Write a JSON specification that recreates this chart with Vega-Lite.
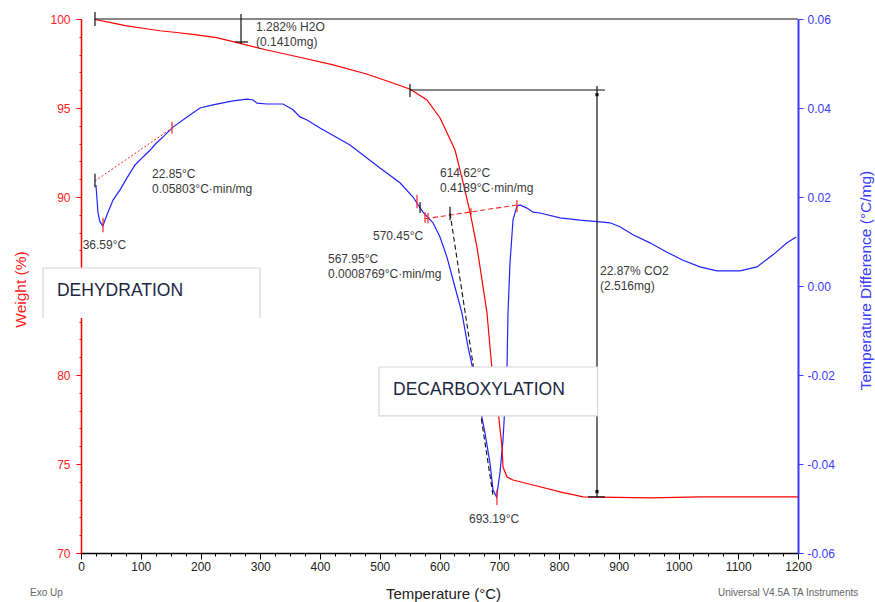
{
  "$schema": "https://vega.github.io/schema/vega-lite/v6.json",
  "width": 717,
  "height": 534,
  "autosize": {"type": "none"},
  "padding": {"left": 81, "top": 19, "right": 77, "bottom": 49},
  "background": "white",
  "config": {"view": {"stroke": null}, "font": "Liberation Sans"},
  "datasets": {
    "tga": [
      {"t": 23, "w": 99.97}, {"t": 50, "w": 99.8}, {"t": 76.5, "w": 99.61}, {"t": 104, "w": 99.48},
      {"t": 132, "w": 99.34}, {"t": 160, "w": 99.24}, {"t": 187, "w": 99.14}, {"t": 227, "w": 98.95},
      {"t": 261, "w": 98.67}, {"t": 311, "w": 98.26}, {"t": 366, "w": 97.85}, {"t": 422, "w": 97.42},
      {"t": 478, "w": 96.91}, {"t": 523, "w": 96.39}, {"t": 551, "w": 96.05}, {"t": 579, "w": 95.45},
      {"t": 601, "w": 94.44}, {"t": 626, "w": 92.64}, {"t": 639.3, "w": 90.84}, {"t": 651, "w": 89.16},
      {"t": 662.7, "w": 87.19}, {"t": 671.1, "w": 85.34}, {"t": 679.5, "w": 83.48}, {"t": 684.5, "w": 81.57},
      {"t": 689.5, "w": 79.72}, {"t": 697.9, "w": 78.03}, {"t": 704.6, "w": 75.96}, {"t": 706.3, "w": 74.83},
      {"t": 713, "w": 74.27}, {"t": 723, "w": 74.1}, {"t": 756.5, "w": 73.82}, {"t": 806.7, "w": 73.39},
      {"t": 823.4, "w": 73.28}, {"t": 840.1, "w": 73.15}, {"t": 952.3, "w": 73.1}, {"t": 1036, "w": 73.15},
      {"t": 1200, "w": 73.15}
    ],
    "dta": [
      {"t": 25, "d": 0.0227}, {"t": 28.5, "d": 0.0164}, {"t": 31.8, "d": 0.0144}, {"t": 36.6, "d": 0.0135},
      {"t": 43.5, "d": 0.016}, {"t": 53.6, "d": 0.0193}, {"t": 65.3, "d": 0.0216}, {"t": 77, "d": 0.0243},
      {"t": 90.4, "d": 0.0272}, {"t": 103.8, "d": 0.029}, {"t": 115.5, "d": 0.0305}, {"t": 123.8, "d": 0.0318},
      {"t": 137.2, "d": 0.0335}, {"t": 154, "d": 0.0357}, {"t": 177.4, "d": 0.038}, {"t": 199.2, "d": 0.04},
      {"t": 220.9, "d": 0.0407}, {"t": 254.4, "d": 0.0416}, {"t": 277.8, "d": 0.042}, {"t": 287.9, "d": 0.0418},
      {"t": 294.6, "d": 0.0411}, {"t": 311.3, "d": 0.0409}, {"t": 338.1, "d": 0.0409}, {"t": 354.8, "d": 0.0396},
      {"t": 366.5, "d": 0.038}, {"t": 378.2, "d": 0.0373}, {"t": 400, "d": 0.0355}, {"t": 450.2, "d": 0.0317},
      {"t": 500.4, "d": 0.0265}, {"t": 533.9, "d": 0.0232}, {"t": 555.6, "d": 0.02}, {"t": 572.4, "d": 0.0166},
      {"t": 589.1, "d": 0.0142}, {"t": 600.8, "d": 0.011}, {"t": 612.5, "d": 0.0065}, {"t": 622.6, "d": 0.0014},
      {"t": 637.6, "d": -0.0061}, {"t": 647.7, "d": -0.0137}, {"t": 654.4, "d": -0.0178}, {"t": 661.1, "d": -0.0227},
      {"t": 667.8, "d": -0.0274}, {"t": 676.1, "d": -0.033}, {"t": 684.5, "d": -0.0398}, {"t": 689.5, "d": -0.0458},
      {"t": 695.5, "d": -0.0474}, {"t": 701.2, "d": -0.042}, {"t": 706.3, "d": -0.0346}, {"t": 709.6, "d": -0.0267},
      {"t": 713, "d": -0.0182}, {"t": 714.6, "d": -0.0061}, {"t": 718, "d": 0.0052}, {"t": 723, "d": 0.0148},
      {"t": 729.7, "d": 0.018}, {"t": 734.7, "d": 0.0182}, {"t": 746.4, "d": 0.0175}, {"t": 756.5, "d": 0.0166},
      {"t": 768.2, "d": 0.0164}, {"t": 801.7, "d": 0.0153}, {"t": 835.1, "d": 0.0148}, {"t": 868.6, "d": 0.0144},
      {"t": 885.3, "d": 0.0142}, {"t": 902.1, "d": 0.0133}, {"t": 923.8, "d": 0.0115}, {"t": 952.3, "d": 0.0097},
      {"t": 980.7, "d": 0.0076}, {"t": 1007.5, "d": 0.0058}, {"t": 1036, "d": 0.0043}, {"t": 1064.4, "d": 0.0034},
      {"t": 1102.9, "d": 0.0034}, {"t": 1131.4, "d": 0.0043}, {"t": 1158.1, "d": 0.007}, {"t": 1181.6, "d": 0.0097},
      {"t": 1197, "d": 0.011}
    ],
    "redDotted": [{"t": 23.4, "d": 0.0236, "t2": 152.3, "d2": 0.0355}],
    "redDashed": [{"t": 575.7, "d": 0.0151, "t2": 729.7, "d2": 0.0182}],
    "blackDashed": [{"t": 617.6, "d": 0.0164, "t2": 689.5, "d2": -0.047}],
    "redTicks": [
      {"t": 152.3, "d": 0.0369, "d2": 0.0342}, {"t": 36.8, "d": 0.0153, "d2": 0.0121},
      {"t": 562.3, "d": 0.0205, "d2": 0.0175}, {"t": 575.7, "d": 0.0166, "d2": 0.0142},
      {"t": 580.7, "d": 0.0164, "d2": 0.0141}, {"t": 652.7, "d": 0.0175, "d2": 0.016},
      {"t": 729.7, "d": 0.0193, "d2": 0.0166}, {"t": 696.2, "d": -0.0458, "d2": -0.0492}
    ],
    "blackTicks": [
      {"t": 23.4, "d": 0.0252, "d2": 0.0222}, {"t": 567.4, "d": 0.0189, "d2": 0.0164},
      {"t": 617.6, "d": 0.0178, "d2": 0.0148}
    ],
    "stepLines": [
      {"t": 23.4, "w": 100, "t2": 1200, "w2": 100},
      {"t": 23.4, "w": 100.39, "t2": 23.4, "w2": 99.61},
      {"t": 267.8, "w": 100.28, "t2": 267.8, "w2": 98.6},
      {"t": 257.7, "w": 98.71, "t2": 279.5, "w2": 98.71},
      {"t": 550.6, "w": 96.01, "t2": 877, "w2": 96.01},
      {"t": 550.6, "w": 96.35, "t2": 550.6, "w2": 95.62},
      {"t": 863.6, "w": 96.24, "t2": 863.6, "w2": 73.15},
      {"t": 848.5, "w": 73.15, "t2": 877, "w2": 73.15}
    ],
    "arrowHeads": [{"t": 863.6, "w": 95.75}, {"t": 863.6, "w": 73.45}],
    "labels": [
      {"t": 292.9, "w": 99.33, "text": "1.282% H2O"},
      {"t": 292.9, "w": 98.48, "text": "(0.1410mg)"},
      {"t": 118.8, "w": 91.07, "text": "22.85°C"},
      {"t": 118.8, "w": 90.22, "text": "0.05803°C·min/mg"},
      {"t": 2.8, "w": 87.08, "text": "36.59°C"},
      {"t": 600.8, "w": 91.15, "text": "614.62°C"},
      {"t": 600.8, "w": 90.3, "text": "0.4189°C·min/mg"},
      {"t": 488.7, "w": 87.56, "text": "570.45°C"},
      {"t": 413.4, "w": 86.29, "text": "567.95°C"},
      {"t": 413.4, "w": 85.45, "text": "0.0008769°C·min/mg"},
      {"t": 868.6, "w": 85.6, "text": "22.87% CO2"},
      {"t": 868.6, "w": 84.8, "text": "(2.516mg)"},
      {"t": 649.4, "w": 71.71, "text": "693.19°C"}
    ],
    "boxes": [
      {"t": -63.6, "t2": 299.6, "w": 86.01, "w2": 83.2}
    ],
    "openBoxEdges": [
      {"t": -63.6, "w": 86.01, "t2": 299.6, "w2": 86.01},
      {"t": -63.6, "w": 86.01, "t2": -63.6, "w2": 83.2},
      {"t": 299.6, "w": 86.01, "t2": 299.6, "w2": 83.2}
    ],
    "closedBox": [{"t": 498.7, "t2": 864.5, "w": 80.45, "w2": 77.7}],
    "boxTexts": [
      {"t": -40.2, "w": 84.44, "text": "DEHYDRATION"},
      {"t": 522.2, "w": 78.88, "text": "DECARBOXYLATION"}
    ],
    "footer": [
      {"t": -85.4, "w": 67.58, "text": "Exo Up"},
      {"t": 1066.1, "w": 67.58, "text": "Universal V4.5A TA Instruments"}
    ]
  },
  "encoding": {
    "x": {
      "field": "t",
      "type": "quantitative",
      "scale": {"domain": [0, 1200], "nice": false, "zero": false},
      "axis": {
        "title": "Temperature (°C)",
        "titleFont": "Liberation Sans",
        "titleFontSize": 15,
        "titleFontWeight": "normal",
        "titleColor": "#222222",
        "titleX": 362,
        "titleY": 40,
        "titleBaseline": "middle",
        "titleAlign": "center",
        "values": [0,25,50,75,100,125,150,175,200,225,250,275,300,325,350,375,400,425,450,475,500,525,550,575,600,625,650,675,700,725,750,775,800,825,850,875,900,925,950,975,1000,1025,1050,1075,1100,1125,1150,1175,1200],
        "format": "d",
        "labelExpr": "datum.value % 100 === 0 ? datum.label : ''",
        "labelFontSize": 12,
        "labelColor": "#222222",
        "labelPadding": 2,
        "labelFlush": false,
        "labelOverlap": false,
        "labelBound": false,
        "tickSize": {"condition": {"test": "datum.value % 100 === 0", "value": 6}, "value": 3},
        "tickColor": "#000000",
        "domainColor": "#000000",
        "domainWidth": 1.5,
        "grid": false
      }
    }
  },
  "layer": [
    {
      "encoding": {
        "y": {
          "field": "d",
          "type": "quantitative",
          "scale": {"domain": [-0.06, 0.06], "nice": false, "zero": false},
          "axis": {
            "orient": "right",
            "title": "Temperature Difference (°C/mg)",
            "titleColor": "#3A3AFF",
            "titleFontSize": 15.5,
            "titleFontWeight": "normal",
            "titleX": 67,
            "titleY": 261,
            "titleAngle": 270,
            "titleBaseline": "middle",
            "titleAlign": "center",
            "values": [-0.06, -0.04, -0.02, 0, 0.02, 0.04, 0.06],
            "labelExpr": "replace(format(datum.value, '.2f'), '\u2212', '-')",
            "labelColor": "#3A3AFF",
            "labelFontSize": 12,
            "labelPadding": 4,
            "labelOverlap": false,
            "labelBound": false,
            "labelFlush": false,
            "tickSize": 5,
            "tickColor": "#3A3AFF",
            "domainColor": "#3A3AFF",
            "domainWidth": 2,
            "grid": false
          }
        }
      },
      "layer": [
        {"data": {"name": "dta"}, "mark": {"type": "line", "color": "#2222FF", "strokeWidth": 1.2}},
        {"data": {"name": "redDotted"}, "mark": {"type": "rule", "color": "#FF2020", "strokeDash": [2, 2], "strokeWidth": 1},
         "encoding": {"x2": {"field": "t2"}, "y2": {"field": "d2"}}},
        {"data": {"name": "redDashed"}, "mark": {"type": "rule", "color": "#FF2020", "strokeDash": [5, 3], "strokeWidth": 1.1},
         "encoding": {"x2": {"field": "t2"}, "y2": {"field": "d2"}}},
        {"data": {"name": "blackDashed"}, "mark": {"type": "rule", "color": "#111111", "strokeDash": [5, 3], "strokeWidth": 1.1},
         "encoding": {"x2": {"field": "t2"}, "y2": {"field": "d2"}}},
        {"data": {"name": "redTicks"}, "mark": {"type": "rule", "color": "#FF2020", "strokeWidth": 1.2},
         "encoding": {"y2": {"field": "d2"}}},
        {"data": {"name": "blackTicks"}, "mark": {"type": "rule", "color": "#111111", "strokeWidth": 1.2},
         "encoding": {"y2": {"field": "d2"}}}
      ]
    },
    {
      "encoding": {
        "y": {
          "field": "w",
          "type": "quantitative",
          "scale": {"domain": [70, 100], "nice": false, "zero": false},
          "axis": {
            "orient": "left",
            "title": "Weight (%)",
            "titleColor": "#FF2020",
            "titleFontSize": 15.5,
            "titleFontWeight": "normal",
            "titleX": -61,
            "titleY": 270,
            "titleAngle": 270,
            "titleBaseline": "middle",
            "titleAlign": "center",
            "values": [70,71,72,73,74,75,76,77,78,79,80,81,82,83,84,85,86,87,88,89,90,91,92,93,94,95,96,97,98,99,100],
            "labelExpr": "datum.value % 5 === 0 && datum.value !== 85 ? datum.label : ''",
            "labelColor": "#FF2020",
            "labelFontSize": 12,
            "labelPadding": 6,
            "labelOverlap": false,
            "labelBound": false,
            "labelFlush": false,
            "tickSize": {"condition": {"test": "datum.value % 5 === 0", "value": 5}, "value": 2},
            "tickColor": "#FF0000",
            "domainColor": "#FF0000",
            "domainWidth": 1.5,
            "grid": false
          }
        }
      },
      "layer": [
        {"data": {"name": "tga"}, "mark": {"type": "line", "color": "#FF0000", "strokeWidth": 1.2}},
        {"data": {"name": "stepLines"}, "mark": {"type": "rule", "color": "#111111", "strokeWidth": 1.2},
         "encoding": {"x2": {"field": "t2"}, "y2": {"field": "w2"}}},
        {"data": {"name": "arrowHeads"}, "mark": {"type": "point", "shape": "square", "filled": true, "color": "#111111", "size": 10, "opacity": 1}},
        {"data": {"name": "labels"}, "mark": {"type": "text", "align": "left", "baseline": "alphabetic", "fontSize": 12, "color": "#3A3A3A"},
         "encoding": {"text": {"field": "text"}}},
        {"data": {"name": "boxes"}, "mark": {"type": "rect", "fill": "#FFFFFF", "strokeWidth": 0},
         "encoding": {"x2": {"field": "t2"}, "y2": {"field": "w2"}}},
        {"data": {"name": "openBoxEdges"}, "mark": {"type": "rule", "color": "#D6D6D6", "strokeWidth": 1.2},
         "encoding": {"x2": {"field": "t2"}, "y2": {"field": "w2"}}},
        {"data": {"name": "closedBox"}, "mark": {"type": "rect", "fill": "#FFFFFF", "stroke": "#D6D6D6", "strokeWidth": 1.2},
         "encoding": {"x2": {"field": "t2"}, "y2": {"field": "w2"}}},
        {"data": {"name": "boxTexts"}, "mark": {"type": "text", "align": "left", "baseline": "alphabetic", "fontSize": 17.5, "color": "#1C2640"},
         "encoding": {"text": {"field": "text"}}},
        {"data": {"name": "footer"}, "mark": {"type": "text", "align": "left", "baseline": "alphabetic", "fontSize": 10, "color": "#666666"},
         "encoding": {"text": {"field": "text"}}}
      ]
    }
  ],
  "resolve": {"scale": {"y": "independent"}}
}
